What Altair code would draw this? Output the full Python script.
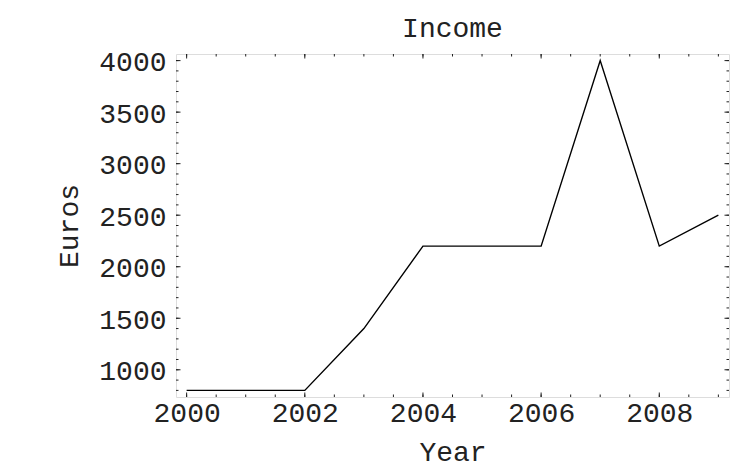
import altair as alt
import pandas as pd

# Data
years = [2000, 2001, 2002, 2003, 2004, 2005, 2006, 2007, 2008, 2009]
income = [800, 800, 800, 1400, 2200, 2200, 2200, 4000, 2200, 2500]

# Axis ticks / labels
x_major = [2000, 2002, 2004, 2006, 2008]
x_minor = [2000 + 0.5 * i for i in range(19)]
y_major = [1000, 1500, 2000, 2500, 3000, 3500, 4000]
y_minor = [800 + 100 * i for i in range(33)]

x_domain = [1999.82, 2009.18]
y_domain = [736, 4064]

W, H = 553, 343
FONT = "Liberation Mono"
FS = 28
TXT = "#222"
MAJ, MIN = 4.5, 2.5

df = pd.DataFrame({"Year": years, "Euros": income})
xs = alt.Scale(domain=x_domain, nice=False, zero=False)
ys = alt.Scale(domain=y_domain, nice=False, zero=False)

line = alt.Chart(df).mark_line(color="black", strokeWidth=1.4).encode(
    x=alt.X("Year:Q", scale=xs, title="Year",
            axis=alt.Axis(values=x_major, format="d", ticks=False, tickSize=0,
                          domain=False, grid=False, labelFont=FONT,
                          labelFontSize=FS, labelColor=TXT,
                          labelBaseline="alphabetic", labelPadding=24,
                          titleFont=FONT, titleFontSize=FS, titleFontWeight="normal",
                          titleColor=TXT, titleBaseline="alphabetic",
                          titleY=63)),
    y=alt.Y("Euros:Q", scale=ys, title="Euros",
            axis=alt.Axis(values=y_major, format="d", ticks=False, tickSize=0,
                          domain=False, grid=False, labelFont=FONT,
                          labelFontSize=FS, labelColor=TXT, labelPadding=10,
                          labelOffset=2,
                          titleFont=FONT, titleFontSize=FS, titleFontWeight="normal",
                          titleColor=TXT, titleBaseline="alphabetic",
                          titleX=-99, titleY=H / 2, titleAngle=270)),
)

def xticks(vals, length):
    d = pd.DataFrame({"t": vals})
    bottom = alt.Chart(d).mark_rule(color="#222", strokeWidth=1).encode(
        x=alt.X("t:Q", scale=xs), y=alt.value(H), y2=alt.value(H - length))
    top = alt.Chart(d).mark_rule(color="#222", strokeWidth=1).encode(
        x=alt.X("t:Q", scale=xs), y=alt.value(0), y2=alt.value(length))
    return [bottom, top]

def yticks(vals, length):
    d = pd.DataFrame({"t": vals})
    left = alt.Chart(d).mark_rule(color="#222", strokeWidth=1).encode(
        y=alt.Y("t:Q", scale=ys), x=alt.value(0), x2=alt.value(length))
    right = alt.Chart(d).mark_rule(color="#222", strokeWidth=1).encode(
        y=alt.Y("t:Q", scale=ys), x=alt.value(W), x2=alt.value(W - length))
    return [left, right]

layers = [line] + xticks(x_minor, MIN) + xticks(x_major, MAJ) + yticks(y_minor, MIN) + yticks(y_major, MAJ)

chart = alt.layer(*layers).properties(
    width=W, height=H,
    title=alt.TitleParams("Income", font=FONT, fontSize=FS, fontWeight="normal",
                          color=TXT, anchor="middle", offset=6),
    padding={"left": 47, "top": 6, "right": 5, "bottom": 8},
).configure_view(stroke="#222", strokeWidth=1.2).configure(background="white")

chart.save("out.html", embed_options={"renderer": "svg", "actions": False})
